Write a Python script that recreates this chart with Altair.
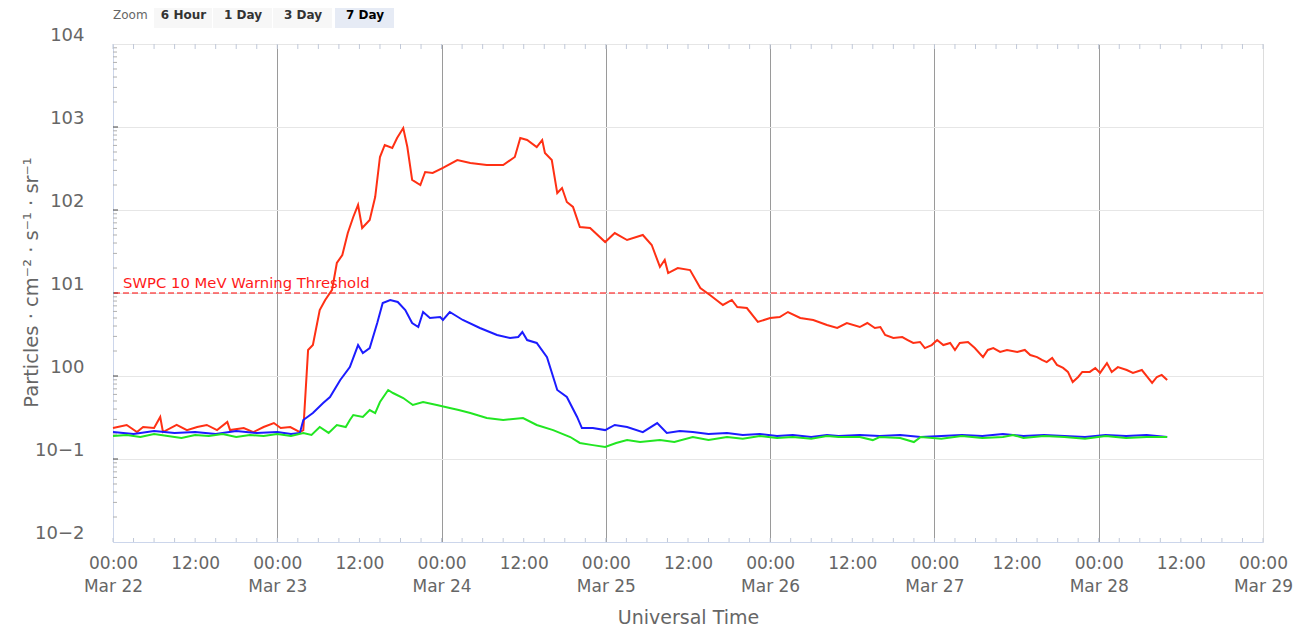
import altair as alt
import pandas as pd

# ---------------- data ----------------
START = "2024-03-22T00:00:00Z"
END = "2024-03-29T00:00:00Z"

# >=10 MeV (red)
red_hours = [0, 2.0, 3.5, 4.4, 6.0, 6.9, 7.3, 9.3, 10.8, 12.3, 13.7, 15.2, 16.7, 17.1, 19.1, 20.5,
             22.0, 23.5, 24.5, 25.9, 27.3, 27.8, 28.5, 29.2, 30.2, 31.0, 32.0, 32.7, 33.5, 34.3,
             35.1, 35.8, 36.4, 37.5, 38.3, 39.0, 39.7, 40.8, 41.5, 42.4, 43.0, 43.7, 44.9, 45.6,
             46.7, 48.2, 50.3, 52.2, 54.6, 57.0, 58.7, 59.5, 60.5, 61.9, 62.7, 63.1, 64.1, 64.9,
             65.6, 66.3, 67.2, 68.2, 69.7, 71.9, 73.3, 75.1, 77.4, 78.7, 79.9, 80.6, 81.1, 82.5,
             84.3, 85.8, 87.2, 89.1, 90.4, 91.2, 92.6, 94.2, 96.0, 97.4, 98.6, 100.4, 102.3,
             104.3, 105.8, 107.2, 109.1, 110.2, 111.3, 112.1, 112.8, 114.0, 115.3, 116.1, 116.9,
             117.9, 118.6, 119.6, 120.4, 121.3, 122.3, 123.0, 123.7, 124.9, 125.9, 127.1, 127.8,
             128.6, 129.6, 130.6, 132.1, 133.2, 134.0, 135.0, 135.7, 136.4, 137.2, 137.9, 138.8,
             139.5, 140.2, 141.0, 141.6, 142.7, 143.5, 144.2, 145.2, 145.9, 146.8, 148.1, 149.0,
             150.3, 151.1, 151.8, 152.5, 153.2, 154.0]
red_flux = [0.236, 0.257, 0.211, 0.243, 0.236, 0.321, 0.211, 0.257, 0.223, 0.243, 0.257, 0.223,
            0.279, 0.223, 0.236, 0.211, 0.243, 0.271, 0.236, 0.243, 0.211, 0.223, 2.06, 2.36,
            6.24, 8.24, 10.9, 23.0, 28.7, 52.8, 82.4, 115, 60.7, 75.8, 143, 435, 607, 558, 736,
            972, 574, 230, 200, 287, 279, 321, 400, 368, 348, 348, 435, 736, 697, 574, 697, 486,
            400, 160, 184, 125, 109, 62.4, 60.7, 41.1, 52.8, 43.5, 50.0, 37.9, 20.6, 25.0, 17.4,
            20.0, 18.9, 11.5, 9.46, 7.17, 8.24, 6.78, 6.59, 4.48, 5.00, 5.14, 5.90, 5.00, 4.73,
            4.11, 3.79, 4.35, 3.89, 4.35, 3.79, 3.89, 3.12, 2.87, 2.95, 2.71, 2.50, 2.57, 2.17,
            2.36, 2.71, 2.36, 2.50, 2.06, 2.50, 2.57, 2.17, 1.69, 2.06, 2.17, 1.95, 2.06, 1.95,
            2.06, 1.79, 1.69, 1.56, 1.47, 1.65, 1.36, 1.25, 1.12, 0.847, 0.973, 1.12, 1.12, 1.25,
            1.09, 1.43, 1.12, 1.28, 1.18, 1.09, 1.18, 0.973, 0.824, 0.973, 1.03, 0.895]

# >=50 MeV (blue)
blue_hours = [0, 3, 6, 9, 12, 15, 18, 21, 24, 26, 27.3, 27.8, 29.2, 30.7, 31.7, 33.2, 34.6, 35.8,
              36.5, 37.5, 38.6, 39.4, 40.5, 41.6, 42.7, 43.7, 44.6, 45.3, 46.3, 47.8, 48.2, 49.2,
              51.1, 53.6, 56.1, 58.0, 59.2, 59.8, 60.5, 61.9, 63.4, 64.9, 66.3, 67.8, 68.5, 70.1,
              71.9, 73.3, 75.1, 77.4, 79.5, 80.9, 82.8, 84.7, 87.0, 89.7, 92.0, 94.5, 97.0, 99.3,
              102.0, 104.3, 106.0, 109.1, 112.0, 115.0, 118.0, 121.0, 124.0, 127.0, 130.0, 133.0,
              136.0, 139.0, 142.0, 145.0, 148.0, 151.0, 154.0]
blue_flux = [0.211, 0.200, 0.217, 0.206, 0.211, 0.200, 0.217, 0.206, 0.211, 0.200, 0.206, 0.295,
             0.358, 0.473, 0.558, 0.895, 1.28, 2.36, 1.89, 2.17, 4.35, 7.58, 8.24, 7.79, 6.24,
             4.35, 3.89, 5.90, 5.00, 5.14, 4.73, 5.90, 4.73, 3.79, 3.12, 2.87, 2.95, 3.39, 2.71,
             2.50, 1.69, 0.678, 0.558, 0.321, 0.236, 0.236, 0.223, 0.257, 0.243, 0.211, 0.271,
             0.206, 0.217, 0.211, 0.200, 0.206, 0.195, 0.200, 0.189, 0.195, 0.184, 0.195, 0.189,
             0.195, 0.189, 0.195, 0.184, 0.189, 0.195, 0.189, 0.200, 0.189, 0.195, 0.189, 0.184,
             0.195, 0.189, 0.195, 0.184]

# >=100 MeV (green)
green_hours = [0, 2, 4, 6, 8, 10, 12, 14, 16, 18, 20, 22, 24, 26, 27.8, 29, 30.2, 31.5, 32.7, 34.0,
               34.6, 35.1, 36.5, 37.5, 38.3, 39.0, 40.2, 40.9, 42.4, 43.8, 45.3, 47.3, 49.2, 50.5,
               52.2, 54.6, 57.0, 59.9, 61.9, 64.3, 66.8, 68.2, 70.1, 71.9, 73.5, 75.1, 77.0, 79.9,
               82.0, 84.7, 87.0, 89.7, 92.0, 94.5, 97.0, 99.3, 102.0, 104.3, 106.0, 109.1, 111.0,
               112.0, 115.0, 117.0, 118.0, 121.0, 124.0, 127.0, 130.0, 131.5, 133.0, 136.0, 139.0,
               142.0, 145.0, 148.0, 151.0, 154.0]
green_flux = [0.189, 0.195, 0.184, 0.200, 0.189, 0.179, 0.195, 0.189, 0.200, 0.184, 0.195, 0.189,
              0.200, 0.189, 0.206, 0.195, 0.243, 0.206, 0.257, 0.243, 0.295, 0.339, 0.321, 0.389,
              0.358, 0.486, 0.678, 0.624, 0.543, 0.447, 0.486, 0.447, 0.412, 0.389, 0.358, 0.312,
              0.295, 0.312, 0.257, 0.223, 0.184, 0.156, 0.147, 0.140, 0.156, 0.169, 0.160, 0.169,
              0.160, 0.184, 0.169, 0.184, 0.175, 0.189, 0.179, 0.184, 0.175, 0.189, 0.184, 0.184,
              0.169, 0.184, 0.179, 0.160, 0.184, 0.175, 0.189, 0.179, 0.184, 0.195, 0.179, 0.189,
              0.184, 0.175, 0.189, 0.179, 0.184, 0.184]

series_names = [">=10 MeV", ">=50 MeV", ">=100 MeV"]
series_colors = ["#ff3014", "#1c1cff", "#22e622"]

threshold_value = [10]
threshold_label = ["SWPC 10 MeV Warning Threshold"]

y_tick_values = [0.01, 0.1, 1, 10, 100, 1000, 10000]
zoom_buttons = ["6 Hour", "1 Day", "3 Day", "7 Day"]
zoom_title = "Zoom"

# ---------------- helpers ----------------
t0 = pd.Timestamp(START)
t1 = pd.Timestamp(END)
ms = lambda t: int(t.timestamp() * 1000)


def frame(hours, flux, name):
    times = t0 + pd.to_timedelta(hours, unit="h")
    return pd.DataFrame({"time": times.strftime("%Y-%m-%dT%H:%M:%SZ"), "flux": flux, "series": name})


x_scale = alt.Scale(type="utc", domain=[ms(t0), ms(t1)], nice=False)
y_scale = alt.Scale(type="log", domain=[0.01, 10000], nice=False)

W, H = 1150, 498
FONT = "DejaVu Sans"
GREY = "#666666"

x_tick_ms = [ms(t0 + pd.Timedelta(hours=12 * i)) for i in range(15)]

x_axis = alt.Axis(
    values=x_tick_ms,
    labelExpr="utchours(datum.value) == 0 ? [utcFormat(datum.value, '%H:%M'), utcFormat(datum.value, '%b %d')] : utcFormat(datum.value, '%H:%M')",
    labelFont=FONT, labelFontSize=17, labelColor=GREY, labelPadding=13, labelLineHeight=23,
    labelOverlap=False, labelFlush=False, labelBound=False,
    ticks=False, domainColor="#ccd6eb",
    grid=True, gridColor="#9a9a9a", gridWidth=1,
    gridOpacity={"condition": {"test": "utchours(datum.value) == 0 && datum.value > %d && datum.value < %d" % (ms(t0), ms(t1)), "value": 1}, "value": 0},
    title="Universal Time", titleFont=FONT, titleFontSize=19, titleFontWeight="normal",
    titleColor=GREY, titlePadding=14,
)

y_axis = alt.Axis(
    values=y_tick_values,
    labelExpr="'10' + format(round(log(datum.value) / LN10), 'd')",
    labelFont=FONT, labelFontSize=18, labelColor=GREY, labelPadding=29, labelBaseline="bottom",
    ticks=False, domainColor="#ccd6eb", grid=True, gridColor="#e6e6e6",
    title="Particles · cm⁻² · s⁻¹ · sr⁻¹", titleFont=FONT, titleFontSize=19.5,
    titleFontWeight="normal", titleColor=GREY, titleAngle=270, titleX=-82, titleY=238,
    titleAlign="center", titleBaseline="middle",
)

layers = []

# axes carrier (invisible)
axis_df = frame([0, 154], [1, 1], "axis")
layers.append(alt.Chart(axis_df).mark_point(opacity=0).encode(
    x=alt.X("time:T", scale=x_scale, axis=x_axis),
    y=alt.Y("flux:Q", scale=y_scale, axis=y_axis),
))

# minor ticks (y, log) on the left edge
minor_y = [k * 10.0 ** e for e in range(-2, 4) for k in range(2, 10)]
layers.append(alt.Chart(pd.DataFrame({"flux": minor_y})).mark_rule(color="#b0b0b0", strokeWidth=1).encode(
    y=alt.Y("flux:Q", scale=y_scale), x=alt.value(0), x2=alt.value(4)))
layers.append(alt.Chart(pd.DataFrame({"flux": y_tick_values[1:-1]})).mark_rule(color="#444444", strokeWidth=1).encode(
    y=alt.Y("flux:Q", scale=y_scale), x=alt.value(0), x2=alt.value(5)))

# minor ticks (x, 3 h) on top and bottom edges
tick_times = pd.date_range(t0, t1, freq="3h").strftime("%Y-%m-%dT%H:%M:%SZ")
tdf = pd.DataFrame({"time": tick_times})
layers.append(alt.Chart(tdf).mark_rule(color="#c0c8d8", strokeWidth=1).encode(
    x=alt.X("time:T", scale=x_scale), y=alt.value(0), y2=alt.value(5)))
layers.append(alt.Chart(tdf).mark_rule(color="#c0c8d8", strokeWidth=1).encode(
    x=alt.X("time:T", scale=x_scale), y=alt.value(H - 4), y2=alt.value(H)))

# threshold
thr_df = pd.DataFrame({"flux": threshold_value, "label": threshold_label})
layers.append(alt.Chart(thr_df).mark_rule(color="#ff0000", strokeDash=[6, 3], strokeWidth=1).encode(
    y=alt.Y("flux:Q", scale=y_scale)))
layers.append(alt.Chart(thr_df).mark_text(align="left", baseline="alphabetic", dy=-5, color="#ff1a1a",
                                          font=FONT, fontSize=14.8).encode(
    x=alt.value(10), y=alt.Y("flux:Q", scale=y_scale), text="label:N"))

# series (red, blue, green — green on top)
for hrs, flx, name, col in [(red_hours, red_flux, series_names[0], series_colors[0]),
                            (blue_hours, blue_flux, series_names[1], series_colors[1]),
                            (green_hours, green_flux, series_names[2], series_colors[2])]:
    layers.append(alt.Chart(frame(hrs, flx, name)).mark_line(color=col, strokeWidth=2).encode(
        x=alt.X("time:T", scale=x_scale),
        y=alt.Y("flux:Q", scale=y_scale),
    ))

# zoom buttons (UI chrome above the plot)
btn_x = [(41, 100), (100, 160), (160, 220), (222, 282)]
for i, (lab, (a, b)) in enumerate(zip(zoom_buttons, btn_x)):
    bdf = pd.DataFrame({"label": [lab]})
    sel = i == len(zoom_buttons) - 1
    layers.append(alt.Chart(bdf).mark_rect(color="#e6ebf5" if sel else "#f7f7f7").encode(
        x=alt.value(a), x2=alt.value(b - 1), y=alt.value(-41), y2=alt.value(-16)))
    layers.append(alt.Chart(bdf).mark_text(font=FONT, fontSize=12, fontWeight="bold",
                                           color="#000000" if sel else "#333333").encode(
        x=alt.value((a + b) / 2), y=alt.value(-29), text="label:N"))
layers.append(alt.Chart(pd.DataFrame({"label": [zoom_title]})).mark_text(
    font=FONT, fontSize=12, color=GREY, align="left").encode(
    x=alt.value(0), y=alt.value(-29), text="label:N"))

chart = alt.layer(*layers).properties(
    width=W, height=H,
    autosize=alt.AutoSizeParams(type="none"),
    padding={"left": 105, "top": 36, "right": 30, "bottom": 84},
).configure_view(stroke="#ccd6eb", strokeWidth=1).configure(font=FONT)

chart.save("out.html", embed_options={"renderer": "svg", "actions": False})
